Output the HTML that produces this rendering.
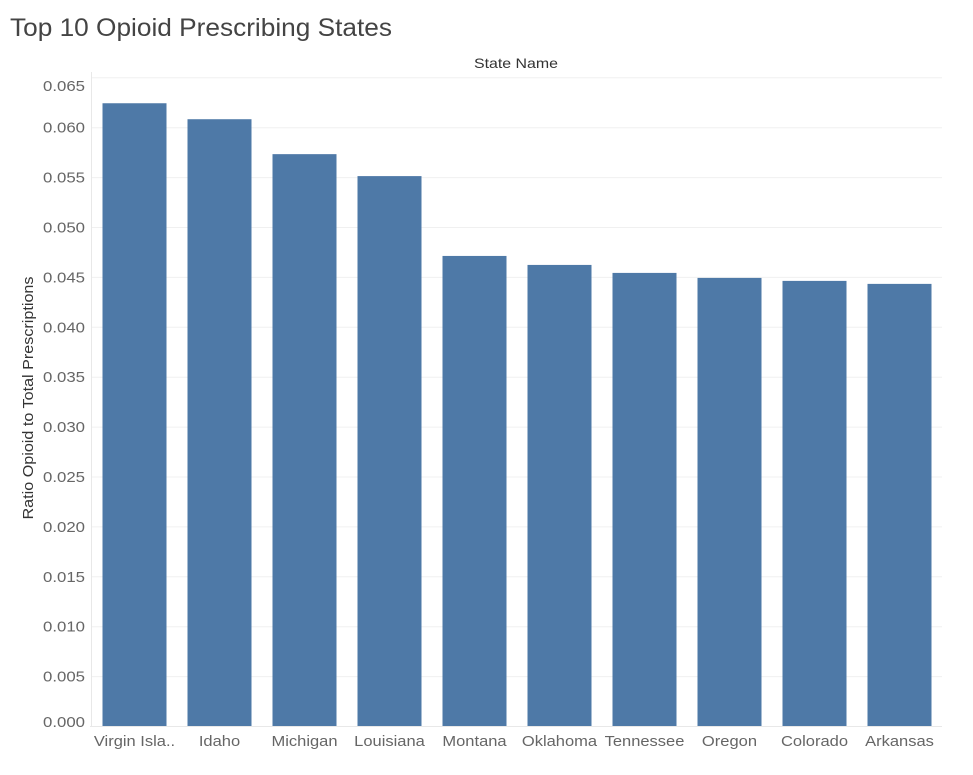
<!DOCTYPE html>
<html><head><meta charset="utf-8"><style>
body{margin:0;background:#fff;font-family:"Liberation Sans",sans-serif}
</style></head><body>
<svg width="973" height="770" xmlns="http://www.w3.org/2000/svg">
<text x="10" y="36" font-size="25" fill="#444" textLength="382" lengthAdjust="spacingAndGlyphs">Top 10 Opioid Prescribing States</text>
<text x="516" y="68" font-size="14" fill="#333" text-anchor="middle" textLength="84" lengthAdjust="spacingAndGlyphs">State Name</text>
<text transform="translate(33,398) rotate(-90)" font-size="14.5" fill="#333" text-anchor="middle" textLength="243" lengthAdjust="spacingAndGlyphs">Ratio Opioid to Total Prescriptions</text>
<g id="grid"></g><g id="bars"></g><g id="labels"></g>
</svg>
<script>
const states=["Virgin Isla..","Idaho","Michigan","Louisiana","Montana","Oklahoma","Tennessee","Oregon","Colorado","Arkansas"];
const ratios=[0.0624,0.0608,0.0573,0.0551,0.0471,0.0462,0.0454,0.0449,0.0446,0.0443];
const yTicks=[0,0.005,0.01,0.015,0.02,0.025,0.03,0.035,0.04,0.045,0.05,0.055,0.06,0.065];
const NS="http://www.w3.org/2000/svg";
const x0=92,x1=942,yZero=726,pxPerUnit=49.9/0.005;
const band=(x1-x0)/states.length;
function y(v){return yZero-v*pxPerUnit;}
function xc(i){return x0+band*(i+0.5);}
function mk(t,a,p){const e=document.createElementNS(NS,t);for(const k in a)e.setAttribute(k,a[k]);document.getElementById(p).appendChild(e);return e;}
const ax=mk('line',{x1:x0-0.5,x2:x0-0.5,y1:72,y2:yZero+1,stroke:'#e8e8e8'},'grid');


const bl=mk('line',{x1:x0-2,x2:x1,y1:yZero+0.5,y2:yZero+0.5,stroke:'#e8e8e8'},'grid');


yTicks.forEach((v,i)=>{
 if(v>0){const g=mk('line',{x1:x0,x2:x1,y1:y(v)+0.5,y2:y(v)+0.5,stroke:'#f0f0f0'},'grid');
 
 }
 let ly=y(v)+5.5; if(i===yTicks.length-1) ly+=8; if(i===0) ly-=4.5;
 const t=mk('text',{x:85,y:ly,'font-size':15,fill:'#666','text-anchor':'end',textLength:42,lengthAdjust:'spacingAndGlyphs'},'labels');
 t.textContent=v.toFixed(3);
 
 
});
states.forEach((s,i)=>{
 const r=mk('rect',{x:xc(i)-32,y:y(ratios[i]),width:64,height:yZero-y(ratios[i]),fill:'#4e79a7'},'bars');
 
 
 const t=mk('text',{x:xc(i),y:746,'font-size':15,fill:'#666','text-anchor':'middle'},'labels');
 t.textContent=s;
 
 
 const w=t.getComputedTextLength();
 t.setAttribute('textLength',(w*1.1).toFixed(1));
 t.setAttribute('lengthAdjust','spacingAndGlyphs');
});
</script>
</body></html>
